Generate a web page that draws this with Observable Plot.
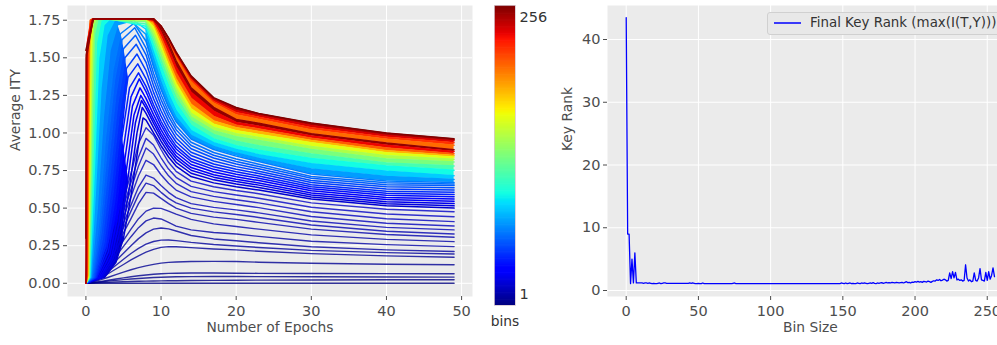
<!DOCTYPE html>
<html><head><meta charset="utf-8">
<script src="https://cdn.jsdelivr.net/npm/d3@7"></script>
<script src="https://cdn.jsdelivr.net/npm/@observablehq/plot@0.6"></script>
<style>
body{margin:0;background:#fff;}
#root{position:relative;width:997px;height:345px;overflow:hidden;font-family:"DejaVu Sans",sans-serif;}
#root > *{position:absolute;}
#legend{left:767px;top:12px;width:260px;height:23px;background:#e8e8e8;border:1px solid #d0d0d0;border-radius:3px;box-sizing:border-box;}
#legend svg{position:absolute;left:5px;top:5px;}
#legend .tx{position:absolute;left:42px;top:2px;font-size:13.4px;color:#333;white-space:nowrap;}
</style></head><body><div id="root"></div>
<script>
// ---------------- data: left panel (Average ITY vs epoch, one curve per number of bins) ----------------
const ityBins = [1,2,3,4,5,6,7,8,9,10,11,12,13,14,15,16,17,19,22,25,28,32,36,40,44,48,52,56,60,64,72,84,96,112,128,144,160,184,204,208,220,232,236,248,256,252];
// early part of each curve: [epoch, ITY] points before epoch 8
const ityRise = [
 [[0,0],[7,0]],
 [[0,0],[1,0.002],[2,0.004],[3,0.006],[4,0.008],[5,0.01],[6,0.012],[7,0.013]],
 [[0,0],[1,0.004],[2,0.009],[3,0.014],[4,0.019],[5,0.024],[6,0.028],[7,0.032]],
 [[0,0],[1,0.005],[2,0.012],[3,0.02],[4,0.028],[5,0.036],[6,0.043],[7,0.05]],
 [[0,0],[1,0.01],[2,0.024],[3,0.04],[4,0.057],[5,0.074],[6,0.09],[7,0.104]],
 [[0,0],[1,0.015],[2,0.038],[3,0.065],[4,0.095],[5,0.125],[6,0.155],[7,0.183]],
 [[0,0],[1,0.018],[2,0.045],[3,0.08],[4,0.12],[5,0.16],[6,0.198],[7,0.232]],
 [[0,0],[1,0.022],[2,0.056],[3,0.1],[4,0.15],[5,0.2],[6,0.25],[7,0.297]],
 [[0,0],[1,0.026],[2,0.066],[3,0.12],[4,0.18],[5,0.245],[6,0.31],[7,0.37]],
 [[0,0],[1,0.03],[2,0.076],[3,0.14],[4,0.21],[5,0.285],[6,0.36],[7,0.43]],
 [[0,0],[1,0.034],[2,0.088],[3,0.16],[4,0.245],[5,0.335],[6,0.43],[7,0.53]],
 [[0,0],[1,0.037],[2,0.096],[3,0.175],[4,0.27],[5,0.37],[6,0.48],[7,0.59]],
 [[0,0],[1,0.04],[2,0.104],[3,0.19],[4,0.29],[5,0.4],[6,0.52],[7,0.64]],
 [[0,0],[1,0.043],[2,0.113],[3,0.205],[4,0.315],[5,0.44],[6,0.575],[7,0.715]],
 [[0,0],[1,0.046],[2,0.12],[3,0.22],[4,0.34],[5,0.475],[6,0.625],[7,0.78]],
 [[0,0],[1,0.05],[2,0.13],[3,0.235],[4,0.365],[5,0.51],[6,0.67],[7,0.84]],
 [[0,0],[1,0.055],[2,0.14],[3,0.255],[4,0.395],[5,0.555],[6,0.73],[7,0.93]],
 [[0,0],[2.5,0.04],[4,0.14],[5,0.3],[6,0.58],[7,0.92],[7.6,1.1]],
 [[0,0],[2.3,0.04],[3.8,0.15],[4.8,0.33],[5.8,0.64],[6.8,1.0],[7.5,1.17]],
 [[0,0],[2.1,0.04],[3.6,0.16],[4.6,0.36],[5.6,0.7],[6.6,1.07],[7.4,1.216]],
 [[0,0],[1.9,0.04],[3.4,0.17],[4.4,0.4],[5.4,0.76],[6.4,1.12],[7.3,1.25]],
 [[0,0],[1.7,0.04],[3.2,0.19],[4.2,0.44],[5.2,0.83],[6.2,1.18],[7.2,1.3]],
 [[0,0],[1.5,0.04],[3,0.21],[4,0.49],[5,0.9],[6,1.24],[7.1,1.36]],
 [[0,0],[1.4,0.04],[2.8,0.23],[3.8,0.54],[4.8,0.97],[5.8,1.3],[7,1.4]],
 [[0,0],[1.3,0.04],[2.6,0.25],[3.6,0.6],[4.6,1.04],[5.6,1.37],[6.9,1.46]],
 [[0,0],[1.2,0.04],[2.4,0.27],[3.4,0.66],[4.4,1.11],[5.4,1.43],[6.8,1.525]],
 [[0,0],[1.1,0.04],[2.2,0.3],[3.2,0.73],[4.2,1.18],[5.2,1.5],[6.7,1.59]],
 [[0,0],[1,0.04],[2,0.33],[3,0.8],[4,1.26],[5,1.56],[6.6,1.65]],
 [[0,0],[0.9,0.04],[1.85,0.36],[2.8,0.88],[3.8,1.35],[4.8,1.62],[6.5,1.7]],
 [[0,0],[0.8,0.04],[1.7,0.4],[2.6,0.97],[3.6,1.42],[4.6,1.66],[6.4,1.73]],
 [[0,0],[0.7,0.04],[1.5,0.5],[2.3,1.1],[3.2,1.55],[4.2,1.72],[6,1.745]],
 [[0,0],[0.6,0.04],[1.3,0.65],[2,1.3],[2.8,1.65],[3.8,1.75],[6,1.76]],
 [[0,0],[0.5,0.04],[1.15,0.8],[1.7,1.5],[2.4,1.72],[3.2,1.76]],
 [[0,0],[0.45,0.04],[1.0,0.95],[1.4,1.6],[2,1.75],[2.6,1.76]],
 [[0,0],[0.4,0.04],[0.85,1.1],[1.15,1.66],[1.6,1.76]],
 [[0,0],[0.35,0.04],[0.75,1.3],[1.0,1.72],[1.4,1.76]],
 [[0,0],[0.3,0.04],[0.65,1.45],[0.85,1.74],[1.2,1.76]],
 [[0,0],[0.25,0.05],[0.5,1.55],[0.7,1.75],[1.0,1.76]],
 [[0,0],[0.2,0.05],[0.38,1.6],[0.6,1.75],[1.0,1.76]],
 [[0,0],[0.18,0.05],[0.35,1.62],[0.6,1.75],[1.0,1.76]],
 [[0,0],[0.12,0.05],[0.25,1.62],[0.7,1.75],[1.0,1.76]],
 [[0,0],[0.08,0.05],[0.18,1.6],[0.8,1.75],[1.0,1.76]],
 [[0,0],[0.06,0.1],[0.15,1.55],[0.85,1.75],[1.0,1.76]],
 [[0,0],[0.03,0.2],[0.08,1.5],[0.9,1.75],[1.0,1.76]],
 [[0,1.55],[1,1.76]],
 [[0,0.3],[0.04,1.52],[0.95,1.75],[1.0,1.76]]
];
// later part of each curve, at these epochs
const tailEpochs = [8,9,10,11,12,14,17,20,23,30,40,49];
const ityTail = [
 [0,0,0,0,0,0,0,0,0,0,0,0],
 [0.014,0.015,0.016,0.017,0.017,0.018,0.019,0.02,0.021,0.022,0.023,0.023],
 [0.035,0.038,0.04,0.042,0.043,0.044,0.045,0.045,0.044,0.043,0.042,0.041],
 [0.055,0.06,0.063,0.066,0.067,0.068,0.068,0.067,0.066,0.065,0.064,0.063],
 [0.116,0.126,0.134,0.139,0.142,0.145,0.146,0.145,0.14,0.133,0.127,0.123],
 [0.207,0.226,0.239,0.244,0.243,0.237,0.228,0.222,0.213,0.197,0.182,0.173],
 [0.26,0.278,0.287,0.288,0.284,0.272,0.258,0.248,0.238,0.219,0.204,0.195],
 [0.335,0.36,0.368,0.362,0.348,0.318,0.295,0.283,0.27,0.243,0.222,0.211],
 [0.415,0.434,0.428,0.405,0.38,0.355,0.338,0.328,0.312,0.28,0.257,0.244],
 [0.48,0.5,0.498,0.48,0.46,0.425,0.395,0.378,0.36,0.322,0.292,0.277],
 [0.605,0.6,0.565,0.53,0.5,0.465,0.44,0.425,0.405,0.36,0.324,0.306],
 [0.666,0.65,0.605,0.565,0.535,0.5,0.475,0.458,0.438,0.388,0.346,0.328],
 [0.72,0.7,0.65,0.605,0.57,0.53,0.505,0.488,0.468,0.414,0.372,0.355],
 [0.818,0.79,0.722,0.665,0.62,0.575,0.545,0.524,0.503,0.444,0.399,0.381],
 [0.9,0.86,0.782,0.715,0.665,0.61,0.578,0.556,0.535,0.476,0.429,0.41],
 [0.964,0.92,0.835,0.76,0.705,0.645,0.61,0.587,0.566,0.506,0.461,0.443],
 [1.035,0.985,0.89,0.805,0.745,0.68,0.642,0.617,0.596,0.535,0.492,0.476],
 [1.085,1.0,0.915,0.84,0.78,0.71,0.668,0.642,0.62,0.56,0.515,0.5],
 [1.13,1.035,0.945,0.868,0.805,0.732,0.688,0.66,0.637,0.574,0.529,0.515],
 [1.165,1.065,0.972,0.892,0.828,0.752,0.706,0.677,0.653,0.588,0.543,0.53],
 [1.19,1.09,0.995,0.913,0.848,0.77,0.722,0.692,0.667,0.601,0.557,0.545],
 [1.23,1.122,1.022,0.938,0.87,0.79,0.74,0.709,0.683,0.615,0.571,0.56],
 [1.275,1.158,1.052,0.964,0.893,0.81,0.758,0.726,0.699,0.629,0.585,0.575],
 [1.31,1.188,1.078,0.987,0.914,0.828,0.775,0.742,0.714,0.642,0.599,0.59],
 [1.36,1.228,1.112,1.016,0.94,0.85,0.794,0.759,0.73,0.656,0.613,0.605],
 [1.415,1.27,1.148,1.047,0.967,0.872,0.813,0.776,0.746,0.67,0.628,0.62],
 [1.47,1.315,1.186,1.079,0.995,0.895,0.833,0.793,0.762,0.684,0.642,0.635],
 [1.52,1.357,1.222,1.11,1.022,0.917,0.852,0.81,0.777,0.698,0.656,0.65],
 [1.565,1.397,1.256,1.139,1.047,0.938,0.87,0.827,0.792,0.711,0.668,0.66],
 [1.61,1.44,1.29,1.17,1.075,0.96,0.89,0.846,0.81,0.727,0.681,0.67],
 [1.655,1.49,1.335,1.205,1.103,0.983,0.91,0.866,0.83,0.76,0.71,0.69],
 [1.69,1.535,1.385,1.255,1.148,1.015,0.935,0.89,0.855,0.795,0.745,0.715],
 [1.71,1.58,1.44,1.31,1.195,1.05,0.96,0.915,0.885,0.83,0.78,0.752],
 [1.725,1.615,1.48,1.35,1.235,1.08,0.99,0.945,0.915,0.86,0.8,0.78],
 [1.74,1.645,1.515,1.39,1.27,1.105,1.015,0.975,0.95,0.89,0.827,0.807],
 [1.75,1.675,1.55,1.42,1.3,1.13,1.037,0.995,0.97,0.91,0.848,0.825],
 [1.76,1.705,1.58,1.45,1.33,1.16,1.058,1.015,0.99,0.935,0.868,0.84],
 [1.76,1.728,1.61,1.48,1.36,1.19,1.08,1.035,1.01,0.95,0.882,0.85],
 [1.76,1.757,1.706,1.62,1.51,1.34,1.2,1.12,1.09,1.02,0.958,0.918],
 [1.76,1.74,1.64,1.52,1.4,1.23,1.11,1.052,1.027,0.965,0.9,0.862],
 [1.76,1.758,1.708,1.625,1.52,1.355,1.21,1.135,1.105,1.035,0.972,0.935],
 [1.76,1.75,1.67,1.56,1.44,1.27,1.145,1.07,1.045,0.98,0.918,0.877],
 [1.76,1.759,1.709,1.628,1.53,1.368,1.222,1.15,1.118,1.05,0.985,0.948],
 [1.76,1.76,1.71,1.63,1.537,1.375,1.23,1.16,1.126,1.06,0.993,0.956],
 [1.76,1.76,1.712,1.632,1.54,1.38,1.235,1.17,1.13,1.066,1.0,0.962],
 [1.76,1.755,1.7,1.6,1.48,1.3,1.17,1.09,1.065,0.995,0.933,0.889]
];
// neighbouring curves whose gaps are densely filled in the original
const riseOrder = [256,252,248,236,232,220,208,204,184,160,144,128,112,96,84,72,64,60,56,52,48,44,40,36,32,28,25,22,19]; // left -> right on the rising side
const peakGapEpoch = 5.6; // the peaks of the unsaturated curves stay separate lines beyond this epoch
const bandOrder = [64,72,84,96,112,128,144,160,184,208,232,252,204,220,236,248,256]; // bottom -> top on the falling side
const leftXTicks = [0,10,20,30,40,50];
const leftYTicks = [0,0.25,0.5,0.75,1,1.25,1.5,1.75];
const colorbarTicks = [1,256];

// ---------------- data: right panel (final key rank per bin size 0..255) ----------------
const keyRank = [
 43.5,9.0,9.0,1.1,5.0,1.2,6.0,1.2,1.2,1.2,1.2,1.2,1.15,1.2,1.2,1.15,
 1.2,1.15,1.1,1.15,1.1,1.1,1.15,1.2,1.1,1.15,1.2,1.2,1.15,1.15,1.15,1.15,
 1.15,1.15,1.15,1.15,1.15,1.15,1.15,1.15,1.15,1.15,1.15,1.15,1.2,1.15,1.2,1.15,
 1.1,1.1,1.15,1.1,1.1,1.2,1.1,1.1,1.1,1.1,1.1,1.1,1.1,1.1,1.1,1.1,
 1.1,1.1,1.1,1.1,1.1,1.1,1.1,1.1,1.1,1.1,1.15,1.2,1.1,1.1,1.1,1.1,
 1.1,1.1,1.1,1.1,1.1,1.1,1.1,1.1,1.1,1.1,1.1,1.1,1.1,1.1,1.1,1.1,
 1.1,1.1,1.1,1.1,1.1,1.1,1.1,1.1,1.1,1.1,1.1,1.1,1.1,1.1,1.1,1.1,
 1.1,1.1,1.1,1.1,1.1,1.1,1.1,1.1,1.1,1.1,1.1,1.1,1.1,1.1,1.1,1.1,
 1.1,1.1,1.1,1.1,1.1,1.1,1.1,1.1,1.1,1.1,1.1,1.1,1.1,1.1,1.1,1.1,
 1.1,1.1,1.1,1.1,1.1,1.2,1.15,1.1,1.2,1.1,1.15,1.2,1.1,1.15,1.1,1.1,
 1.2,1.15,1.1,1.2,1.15,1.2,1.15,1.1,1.15,1.2,1.15,1.25,1.15,1.1,1.2,1.15,
 1.2,1.25,1.15,1.2,1.3,1.2,1.25,1.2,1.3,1.25,1.2,1.3,1.25,1.2,1.25,1.3,
 1.2,1.3,1.4,1.25,1.3,1.2,1.35,1.3,1.4,1.35,1.45,1.35,1.4,1.3,1.45,1.4,
 1.35,1.5,1.4,1.3,1.45,1.55,1.5,1.7,1.6,1.75,1.55,1.65,1.8,1.7,1.5,1.6,
 2.8,1.9,3.0,2.0,2.9,1.7,1.8,1.6,1.7,1.5,1.6,4.1,2.0,1.5,1.7,1.4,
 1.5,2.8,1.6,1.5,2.0,3.5,1.7,1.6,1.5,2.9,1.6,3.0,1.8,2.4,3.6,2.2
];
const rightXTicks = [0,50,100,150,200,250];
const rightYTicks = [0,10,20,30,40];
const legendLabel = "Final Key Rank (max(I(T,Y)))";

// ---------------- jet colormap (matplotlib) ----------------
function jet(t){
  const seg = pts => { for (let i = 1; i < pts.length; i++) if (t <= pts[i][0]) { const [x0,y0] = pts[i-1], [x1,y1] = pts[i]; return y0 + (y1-y0)*(t-x0)/(x1-x0); } return pts[pts.length-1][1]; };
  const r = seg([[0,0],[0.35,0],[0.66,1],[0.89,1],[1,0.5]]);
  const g = seg([[0,0],[0.125,0],[0.375,1],[0.64,1],[0.91,0],[1,0]]);
  const b = seg([[0,0.5],[0.11,1],[0.34,1],[0.65,0],[1,0]]);
  return `rgb(${Math.round(r*255)},${Math.round(g*255)},${Math.round(b*255)})`;
}
const colorScale = {type: "linear", domain: [1, 256], interpolate: jet};
const FONT = "DejaVu Sans, sans-serif";
const BG = "#ebebeb";
const INK = "#4d4d4d";

// ---------------- build tables ----------------
const rows = [];
ityBins.forEach((b, k) => {
  ityRise[k].forEach(([e, v]) => rows.push({epoch: e, ity: v, bin: b, id: k}));
  ityTail[k].forEach((v, i) => rows.push({epoch: tailEpochs[i], ity: v, bin: b, id: k}));
});
const idx = b => ityBins.indexOf(b);
// filled gaps between neighbouring rising curves: outline = curve A's points then curve B's points reversed
const riseFill = [];
for (let j = 1; j < riseOrder.length; j++) {
  const limit = riseOrder[j] <= 64 ? peakGapEpoch : Infinity;
  const a = ityRise[idx(riseOrder[j-1])].filter(p => p[0] <= limit);
  const b = ityRise[idx(riseOrder[j])].filter(p => p[0] <= limit);
  a.forEach(([e, v]) => riseFill.push({epoch: e, ity: v, bin: riseOrder[j], pair: j}));
  b.slice().reverse().forEach(([e, v]) => riseFill.push({epoch: e, ity: v, bin: riseOrder[j], pair: j}));
}
// filled gaps between neighbouring falling curves
const areaRows = [];
for (let j = 1; j < bandOrder.length; j++) {
  const lo = ityTail[idx(bandOrder[j-1])], hi = ityTail[idx(bandOrder[j])];
  tailEpochs.forEach((e, i) => areaRows.push({epoch: e, lo: lo[i], hi: hi[i], bin: bandOrder[j], pair: j}));
}
const rankRows = keyRank.map((v, i) => ({size: i, rank: v}));

const root = document.getElementById("root");
const place = (el, left, top) => { el.style.left = left + "px"; el.style.top = top + "px"; root.appendChild(el); return el; };

// ---------------- left panel ----------------
const left = Plot.plot({
  width: 480, height: 345, marginLeft: 67, marginRight: 8, marginTop: 5, marginBottom: 49,
  style: {fontFamily: FONT, fontSize: "14.5px", color: INK, background: "transparent", overflow: "visible"},
  x: {domain: [-2.45, 51.45]},
  y: {domain: [-0.088, 1.848]},
  color: colorScale,
  marks: [
    Plot.frame({fill: BG, stroke: null}),
    Plot.gridX(leftXTicks, {stroke: "#fff", strokeOpacity: 1, strokeWidth: 1}),
    Plot.gridY(leftYTicks, {stroke: "#fff", strokeOpacity: 1, strokeWidth: 1}),
    Plot.axisX(leftXTicks, {tickSize: 4, tickPadding: 5, label: null, tickFormat: d3.format("d"), stroke: INK}),
    Plot.axisY(leftYTicks, {tickSize: 4, tickPadding: 3, label: null, tickFormat: d3.format(".2f"), stroke: INK}),
    Plot.line(riseFill, {x: "epoch", y: "ity", z: "pair", fill: "bin", stroke: null}),
    Plot.areaY(areaRows, {x: "epoch", y1: "lo", y2: "hi", z: "pair", fill: "bin"}),
    Plot.line(rows.filter(d => d.bin < 19), {x: "epoch", y: "ity", z: "id", stroke: "bin", strokeWidth: 1.4, strokeOpacity: 0.8}),
    Plot.line(rows.filter(d => d.bin >= 19), {x: "epoch", y: "ity", z: "id", stroke: "bin", strokeWidth: 1.5}),
    Plot.text(["Number of Epochs"], {frameAnchor: "bottom", dy: 35, fontSize: 13.8, fill: INK}),
    Plot.text(["Average ITY"], {frameAnchor: "left", dx: -52, rotate: -90, fontSize: 13.8, fill: INK})
  ]
});
place(left, 0, 0);

// ---------------- colorbar ----------------
const barBins = d3.range(1, 257);
const bar = Plot.plot({
  width: 70, height: 345, marginLeft: 14, marginRight: 35, marginTop: 5, marginBottom: 40,
  style: {fontFamily: FONT, fontSize: "14px", color: "#333", background: "transparent", overflow: "visible"},
  x: {domain: [0, 1], axis: null},
  y: {domain: [0, 256], axis: null},
  color: colorScale,
  marks: [
    Plot.rect(barBins, {x1: 0, x2: 1, y1: b => Math.max(0, b - 1.6), y2: b => b, fill: b => b}),
    Plot.frame({stroke: "#d8c8d0", strokeWidth: 0.8}),
    Plot.text([colorbarTicks[1]], {frameAnchor: "top-right", dx: 4, dy: 6, textAnchor: "start", fontSize: 14.5, fill: "#333"}),
    Plot.text([colorbarTicks[0]], {frameAnchor: "bottom-right", dx: 4, dy: -7, textAnchor: "start", fontSize: 14.5, fill: "#333"}),
    Plot.text(["bins"], {frameAnchor: "bottom", dy: 20, fontSize: 13.8, fill: "#333"})
  ]
});
place(bar, 480, 0);

// ---------------- right panel ----------------
const right = Plot.plot({
  width: 447, height: 345, marginLeft: 57, marginRight: 0, marginTop: 5, marginBottom: 49,
  style: {fontFamily: FONT, fontSize: "14.5px", color: INK, background: "transparent"},
  x: {domain: [-12.95, 257.1]},
  y: {domain: [-0.956, 45.42]},
  marks: [
    Plot.frame({fill: BG, stroke: null}),
    Plot.gridX(rightXTicks, {stroke: "#fff", strokeOpacity: 1, strokeWidth: 1}),
    Plot.gridY(rightYTicks, {stroke: "#fff", strokeOpacity: 1, strokeWidth: 1}),
    Plot.axisX(rightXTicks, {tickSize: 4, tickPadding: 5, label: null, tickFormat: d3.format("d"), stroke: INK}),
    Plot.axisY(rightYTicks, {tickSize: 4, tickPadding: 3, label: null, tickFormat: d3.format("d"), stroke: INK}),
    Plot.line(rankRows, {x: "size", y: "rank", stroke: "#0000ff", strokeWidth: 1.3}),
    Plot.text(["Bin Size"], {x: () => 127.5, frameAnchor: "bottom", dy: 35, fontSize: 13.8, fill: INK}),
    Plot.text(["Key Rank"], {frameAnchor: "left", dx: -40, rotate: -90, fontSize: 13.8, fill: INK})
  ]
});
place(right, 550, 0);

// ---------------- legend ----------------
const lg = document.createElement("div");
lg.id = "legend";
lg.innerHTML = `<svg width="30" height="10"><line x1="1" x2="28" y1="5" y2="5" stroke="#0000ff" stroke-width="1.5"></line></svg><div class="tx"></div>`;
lg.querySelector(".tx").textContent = legendLabel;
root.appendChild(lg);
</script>
</body></html>
